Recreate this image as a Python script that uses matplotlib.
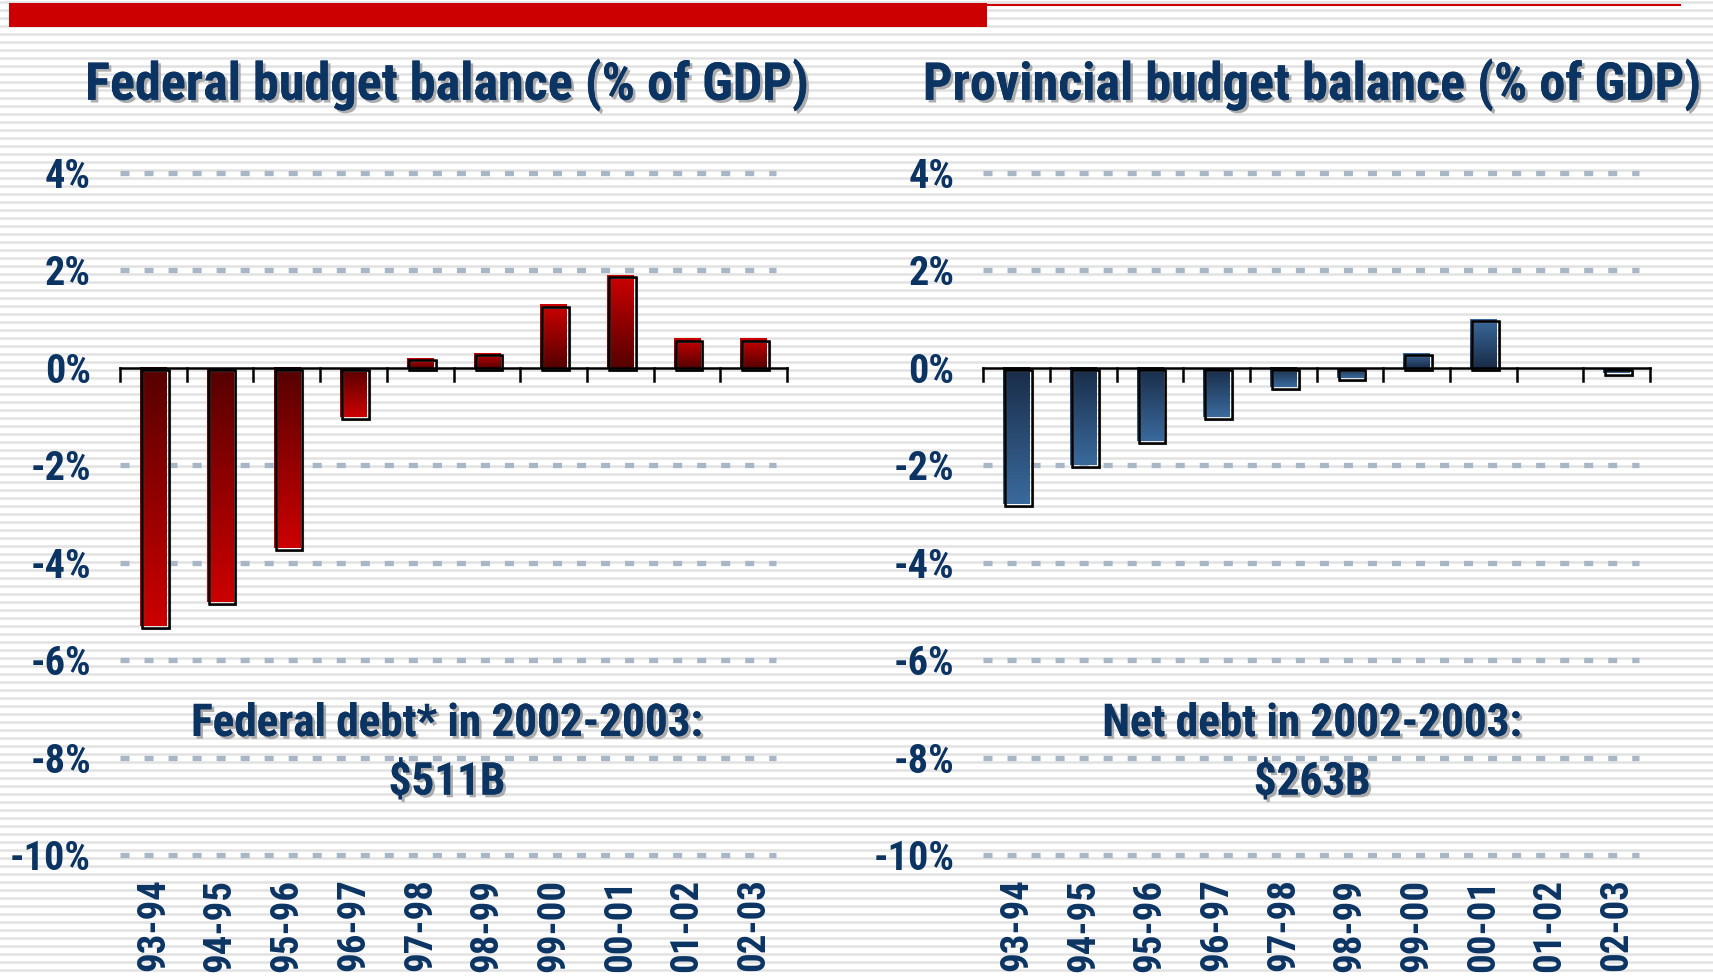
import os
import matplotlib
matplotlib.use('Agg')
import matplotlib.pyplot as plt
import matplotlib.patheffects as pe
from matplotlib import font_manager as fm
from matplotlib.colors import LinearSegmentedColormap
from matplotlib.patches import Rectangle
from matplotlib.transforms import offset_copy
import numpy as np

# datos
periodos = ['93-94', '94-95', '95-96', '96-97', '97-98', '98-99', '99-00', '00-01', '01-02', '02-03']
federal = [-5.3, -4.8, -3.7, -1.0, 0.2, 0.3, 1.3, 1.9, 0.6, 0.6]
provincial = [-2.8, -2.0, -1.5, -1.0, -0.4, -0.2, 0.3, 1.0, 0.0, -0.1]
y_ticks = [4, 2, 0, -2, -4, -6, -8, -10]
y_labels = ['4%', '2%', '0%', '-2%', '-4%', '-6%', '-8%', '-10%']
titulos = ['Federal budget balance (% of GDP)', 'Provincial budget balance (% of GDP)']
notas_1 = ['Federal debt* in 2002-2003:', 'Net debt in 2002-2003:']
notas_2 = ['$511B', '$263B']


# buscamos una fuente estrecha en negrita (tipo Arial Narrow)
def fuente_estrecha():
    archivos = sorted(set(f.fname for f in fm.fontManager.ttflist))
    preferidas = ['liberationsansnarrow-bold.', 'arialnarrowbold', 'arialnbd', 'robotocondensed-bold.',
                  'notosans-condensedbold.', 'opensans-condensedbold.', 'opensans_condensed-bold.',
                  'dejavusanscondensed-bold.']
    for p in preferidas:
        for a in archivos:
            if os.path.basename(a).lower().replace(' ', '').startswith(p):
                return a
    for a in archivos:
        b = os.path.basename(a).lower()
        if ('narrow' in b or 'condensed' in b) and 'bold' in b and 'italic' not in b \
                and 'semi' not in b and 'extra' not in b and 'oblique' not in b:
            return a
    return None


ruta = fuente_estrecha()
if ruta:
    def fp(size):
        return fm.FontProperties(fname=ruta, size=size)
    k = 1.0
else:
    def fp(size):
        return fm.FontProperties(family=['Liberation Sans', 'DejaVu Sans'], weight='bold', size=size)
    k = 0.84

plt.rcParams['lines.scale_dashes'] = False

AZUL = '#0b3463'
W, H = 1713, 977
fig = plt.figure(figsize=(W / 100, H / 100), dpi=100)

# fondo con rayas horizontales
fondo = fig.add_axes([0, 0, 1, 1])
fondo.set_xlim(0, W)
fondo.set_ylim(H, 0)
fondo.axis('off')
for y in np.arange(2, H, 8):
    fondo.axhline(y, color='#e2e2e2', lw=1.8, zorder=0)
fondo.add_patch(Rectangle((9, 3), 978, 24, color='#cc0000', lw=0, zorder=2))
fondo.plot([987, 1680], [4.5, 4.5], color='#cc0000', lw=1.5, zorder=2)

sombra = [pe.withSimplePatchShadow(offset=(2, -2), shadow_rgbFace='#9a9a9a', alpha=0.8), pe.Normal()]


def grafico(pos, valores, cmap, titulo, nota1, nota2, xc):
    ax = fig.add_axes(pos)
    ax.set_facecolor('none')
    for s in ax.spines.values():
        s.set_visible(False)

    # lineas de la cuadricula
    for t in y_ticks:
        if t != 0:
            ax.plot([-0.5, 9.34], [t, t], color='#a8b6c6', lw=3.8, ls=(0, (6.5, 10.8)),
                    dash_capstyle='butt', clip_on=False, zorder=1)

    # barras con degradado
    ancho = 0.4
    grad = np.linspace(0, 1, 100).reshape(-1, 1)
    borde = offset_copy(ax.transData, fig=fig, x=2, y=-2, units='dots')
    borde2 = offset_copy(ax.transData, fig=fig, x=3, y=-3, units='dots')
    for i, v in enumerate(valores):
        if v == 0:
            continue
        x0, x1 = i - ancho / 2, i + ancho / 2
        img = grad[::-1] if v > 0 else grad
        ax.imshow(img, cmap=cmap, extent=[x0, x1, min(0, v), max(0, v)],
                  aspect='auto', origin='upper', zorder=3, interpolation='bilinear')
        ax.add_patch(Rectangle((x0, 0), ancho, v, fill=False, ec='#7a7a7a', lw=1.5,
                               transform=borde2, zorder=3.5))
        ax.add_patch(Rectangle((x0, 0), ancho, v, fill=False, ec='black', lw=1.8,
                               transform=borde, zorder=4))

    # eje en cero con marcas
    ax.plot([-0.5, 9.5], [0, 0], color='black', lw=1.8, zorder=5, clip_on=False)
    for b in np.arange(-0.5, 10, 1):
        ax.plot([b, b], [0, -0.27], color='black', lw=1.8, zorder=5, clip_on=False)

    ax.set_xlim(-0.5, 9.5)
    ax.set_ylim(-10, 4)
    ax.set_yticks(y_ticks)
    ax.set_yticklabels(y_labels)
    ax.set_xticks(range(len(periodos)))
    ax.set_xticklabels(periodos, rotation=90, va='top', ha='center')
    ax.tick_params(axis='y', length=0, pad=21, labelcolor=AZUL)
    ax.tick_params(axis='x', length=0, pad=17, labelcolor=AZUL)
    for lab in ax.get_yticklabels():
        lab.set_fontproperties(fp(29 * k))
    for lab in ax.get_xticklabels():
        lab.set_fontproperties(fp(28 * k))

    fig.text(xc, 0.913, titulo, ha='center', va='center', fontproperties=fp(37.6 * k),
             color=AZUL, path_effects=sombra)
    fig.text(xc, 0.259, nota1, ha='center', va='center', fontproperties=fp(32.5 * k),
             color=AZUL, path_effects=sombra)
    fig.text(xc, 0.199, nota2, ha='center', va='center', fontproperties=fp(32.5 * k),
             color=AZUL, path_effects=sombra)
    return ax


rojo = LinearSegmentedColormap.from_list('rojo', ['#560000', '#cc0000'])
azul = LinearSegmentedColormap.from_list('azul', ['#192c48', '#3a6a9d'])

grafico([0.0701, 0.1249, 0.3894, 0.698], federal, rojo, titulos[0], notas_1[0], notas_2[0], 0.261)
grafico([0.5741, 0.1249, 0.3891, 0.698], provincial, azul, titulos[1], notas_1[1], notas_2[1], 0.766)

fig.savefig('out.png', dpi=100)
